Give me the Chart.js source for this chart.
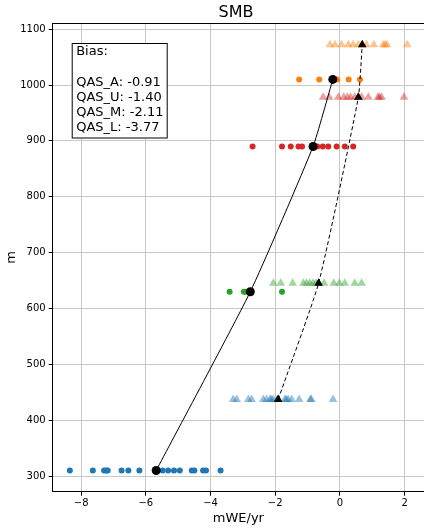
<!DOCTYPE html>
<html>
<head>
<meta charset="utf-8">
<script src="https://cdn.jsdelivr.net/npm/chart.js@4/dist/chart.umd.min.js"></script>
<style>
  html, body { margin: 0; padding: 0; background: #fff; }
  #smbChart { display: block; }
</style>
</head>
<body>
<canvas id="smbChart" width="424" height="529"></canvas>
<script>
// sites, lowest to highest
const sites = ['QAS_L', 'QAS_M', 'QAS_U', 'QAS_A'];
const siteColors = ['31, 119, 180', '44, 160, 44', '214, 39, 40', '255, 127, 14'];

// elevations (m) of the stake rows and the model rows
const obsElev = [310, 630, 890, 1010];
const modElev = [437, 645, 978, 1072];

// stake SMB (mWE/yr) per site
const obsL = [-8.35, -7.64, -7.29, -7.23, -7.18, -6.75, -6.54, -6.20, -5.68, -5.48, -5.31, -5.13, -4.95, -4.58, -4.50, -4.23, -4.14, -3.69];
const obsM = [-3.41, -2.97, -2.92, -2.77, -1.79];
const obsU = [-2.70, -1.79, -1.52, -1.28, -1.17, -0.83, -0.70, -0.53, -0.36, -0.10, 0.15, 0.41];
const obsA = [-1.26, -0.64, -0.23, -0.08, 0.27, 0.62];

// modelled SMB (mWE/yr) per site
const modL = [-3.30, -3.19, -2.83, -2.73, -2.37, -2.27, -2.16, -2.12, -2.06, -1.94, -1.90, -1.70, -1.66, -1.60, -1.49, -1.26, -0.91, -0.89, -0.21];
const modM = [-2.06, -1.83, -1.46, -1.13, -1.03, -0.93, -0.83, -0.74, -0.65, -0.49, -0.19, -0.02, 0.15, 0.46, 0.67];
const modU = [-0.52, -0.33, -0.05, 0.12, 0.23, 0.33, 0.46, 0.57, 0.67, 0.88, 1.18, 1.22, 1.29, 1.98];
const modA = [-0.31, -0.15, 0.05, 0.26, 0.41, 0.57, 0.69, 0.82, 1.05, 1.34, 1.40, 1.46, 2.08];

// site means (mWE/yr)
const obsMean = [-5.68, -2.77, -0.83, -0.22];
const modMean = [-1.91, -0.66, 0.57, 0.69];

// axis ticks
const xTicks = [-8, -6, -4, -2, 0, 2];
const yTicks = [300, 400, 500, 600, 700, 800, 900, 1000, 1100];

const FONT = '"DejaVu Sans", sans-serif';

const obsSets = [obsL, obsM, obsU, obsA];
const modSets = [modL, modM, modU, modA];

const pts = (xs, y) => xs.map(x => ({ x: x, y: y }));
const fmt = v => (v < 0 ? '\u2212' + Math.abs(v) : String(v));

const datasets = [
  {
    data: obsMean.map((x, i) => ({ x: x, y: obsElev[i] })),
    showLine: true,
    tension: 0.15,
    borderColor: '#000',
    borderWidth: 1,
    pointBackgroundColor: '#000',
    pointBorderWidth: 0,
    pointRadius: 4.5,
    pointStyle: 'circle'
  },
  {
    data: modMean.map((x, i) => ({ x: x, y: modElev[i] })),
    showLine: true,
    tension: 0.15,
    borderColor: '#000',
    borderWidth: 1,
    borderDash: [4, 2.5],
    pointBackgroundColor: '#000',
    pointBorderWidth: 0,
    pointRadius: 5,
    pointStyle: 'triangle'
  }
];

sites.forEach((s, i) => {
  datasets.push({
    label: s + ' obs',
    data: pts(obsSets[i], obsElev[i]),
    pointBackgroundColor: 'rgb(' + siteColors[i] + ')',
    pointBorderWidth: 0,
    pointRadius: 3,
    pointStyle: 'circle'
  });
  datasets.push({
    label: s + ' model',
    data: pts(modSets[i], modElev[i]),
    pointBackgroundColor: 'rgba(' + siteColors[i] + ', 0.45)',
    pointBorderWidth: 0,
    pointRadius: 5,
    pointStyle: 'triangle'
  });
});

// title, top spine and the bias box
const decorations = {
  id: 'decorations',
  afterDraw(chart) {
    const ctx = chart.ctx;
    const a = chart.chartArea;
    ctx.save();
    ctx.strokeStyle = '#000';
    ctx.lineWidth = 1;
    ctx.beginPath();
    ctx.moveTo(a.left, a.top + 0.5);
    ctx.lineTo(a.right, a.top + 0.5);
    ctx.stroke();

    ctx.fillStyle = '#000';
    ctx.font = '16px ' + FONT;
    ctx.textAlign = 'center';
    ctx.textBaseline = 'middle';
    ctx.fillText('SMB', 236, 13);

    // highest site first
    const lines = ['Bias:', ''];
    for (let i = sites.length - 1; i >= 0; i--) {
      lines.push(sites[i] + ': ' + (obsMean[i] - modMean[i]).toFixed(2));
    }
    const bx = a.left + 19, by = a.top + 20;
    ctx.fillStyle = '#fff';
    ctx.fillRect(bx, by, 95.5, 95);
    ctx.strokeRect(bx + 0.5, by + 0.5, 95, 94.5);
    ctx.fillStyle = '#000';
    ctx.font = '13px ' + FONT;
    ctx.textAlign = 'left';
    lines.forEach((t, k) => ctx.fillText(t, bx + 4.5, by + 9 + k * 15.1));
    ctx.restore();
  }
};

new Chart(document.getElementById('smbChart').getContext('2d'), {
  type: 'scatter',
  data: { datasets: datasets },
  options: {
    responsive: false,
    animation: false,
    layout: { autoPadding: false, padding: { top: 23, left: 0, right: 0, bottom: 0 } },
    plugins: {
      legend: { display: false },
      tooltip: { enabled: false }
    },
    scales: {
      x: {
        type: 'linear',
        min: -8.88,
        max: 2.6,
        afterBuildTicks: s => { s.ticks = xTicks.map(v => ({ value: v })); },
        afterFit: s => {
          s.height = 37.3;
          s.paddingLeft = 0;
          s.paddingRight = 0;
        },
        ticks: {
          color: '#000',
          font: { family: FONT, size: 10 },
          padding: 2,
          maxRotation: 0,
          callback: v => fmt(v)
        },
        grid: { color: '#c8c8c8', tickColor: '#000', tickLength: 4, lineWidth: 1 },
        border: { display: true, color: '#000', width: 1 },
        title: {
          display: true,
          text: 'mWE/yr',
          color: '#000',
          font: { family: FONT, size: 13 },
          padding: { top: 0, bottom: 3 }
        }
      },
      y: {
        type: 'linear',
        min: 272,
        max: 1111,
        afterBuildTicks: s => { s.ticks = yTicks.map(v => ({ value: v })); },
        afterFit: s => {
          s.width = 52.7;
          s.paddingTop = 0;
          s.paddingBottom = 0;
        },
        ticks: {
          color: '#000',
          font: { family: FONT, size: 10 },
          padding: 3,
          callback: v => fmt(v)
        },
        grid: { color: '#c8c8c8', tickColor: '#000', tickLength: 4, lineWidth: 1 },
        border: { display: true, color: '#000', width: 1 },
        title: {
          display: true,
          text: 'm',
          color: '#000',
          font: { family: FONT, size: 13 },
          padding: { top: 4, bottom: 0 }
        }
      }
    }
  },
  plugins: [decorations]
});
</script>
</body>
</html>
